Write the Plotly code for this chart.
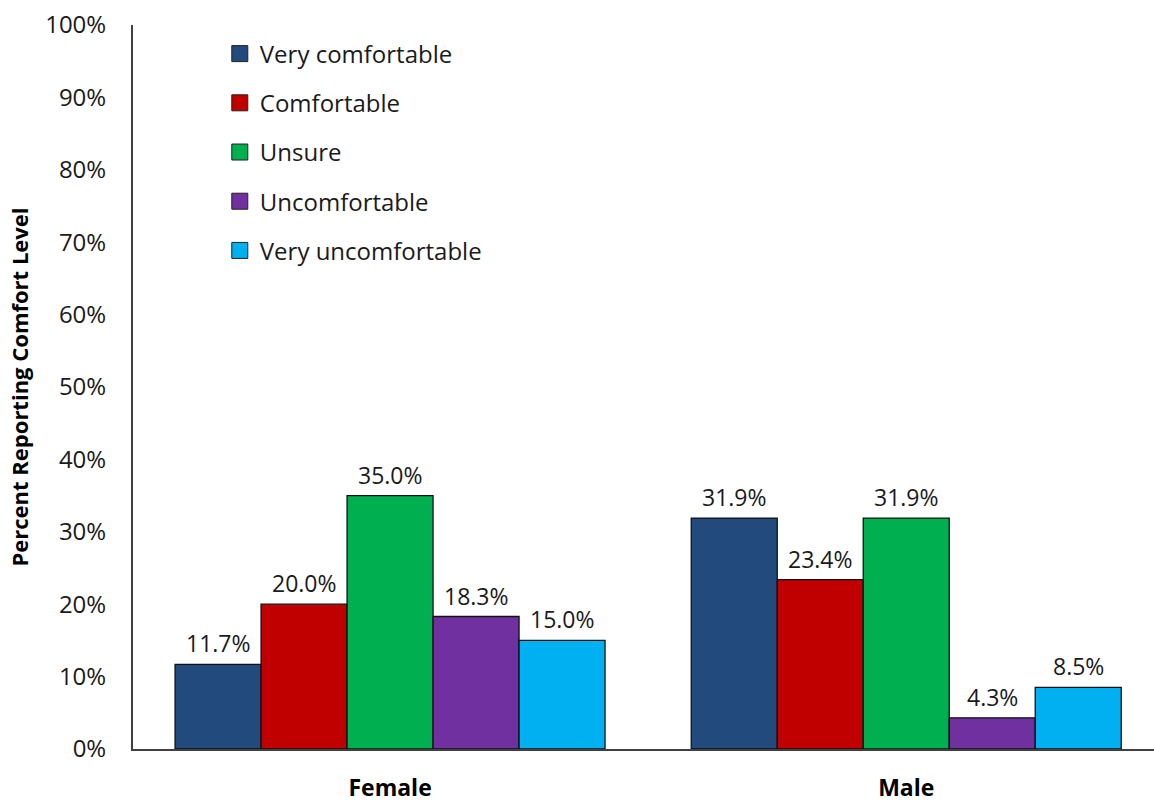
import plotly.graph_objects as go

# Comfort level by gender (percent of respondents)
groups = ["Female", "Male"]
levels = ["Very comfortable", "Comfortable", "Unsure", "Uncomfortable", "Very uncomfortable"]
very_comfortable = [11.7, 31.9]
comfortable = [20.0, 23.4]
unsure = [35.0, 31.9]
uncomfortable = [18.3, 4.3]
very_uncomfortable = [15.0, 8.5]
series = [very_comfortable, comfortable, unsure, uncomfortable, very_uncomfortable]
colors = ["#234A7C", "#C00000", "#00B050", "#7030A0", "#00B0F0"]

FONT = "Open Sans"
TXT = "#1a1a1a"
AXIS = "#404040"
BARGAP = 0.167

fig = go.Figure()
for name, vals, col in zip(levels, series, colors):
    fig.add_trace(go.Bar(
        x=groups, y=[v / 100 for v in vals], name=name,
        marker=dict(color=col, line=dict(color="#111111", width=1.3)),
        showlegend=False,
    ))

# legend entries with larger square swatches
for i, (name, col) in enumerate(zip(levels, colors)):
    fig.add_trace(go.Scatter(
        x=[None], y=[None], mode="markers", name=name, legendgroup=f"g{i}",
        marker=dict(symbol="square", size=16, color=col,
                    line=dict(color="#222222", width=1)),
    ))

# value labels above each bar
n = len(series)
bw = (1 - BARGAP) / n
for i, vals in enumerate(series):
    off = -(1 - BARGAP) / 2 + (i + 0.5) * bw
    for j, v in enumerate(vals):
        fig.add_annotation(
            x=j + off, y=v / 100, xref="x", yref="y",
            text=f"{v:.1f}%", showarrow=False,
            yanchor="middle", yshift=21,
            font=dict(family=FONT, size=23, color=TXT),
        )

fig.update_layout(
    width=1154, height=802,
    margin=dict(l=133, r=0, t=25, b=53),
    paper_bgcolor="white", plot_bgcolor="white",
    barmode="group", bargap=BARGAP, bargroupgap=0,
    font=dict(family=FONT, color=TXT),
    legend=dict(
        x=0.085, y=0.991, xanchor="left", yanchor="top",
        font=dict(family=FONT, size=24, color=TXT),
        tracegroupgap=15, itemsizing="trace",
        bgcolor="rgba(0,0,0,0)",
    ),
    xaxis=dict(
        type="category", range=[-0.498, 1.48], automargin=False,
        showline=True, linecolor=AXIS, linewidth=2,
        showgrid=False, ticks="", ticklabelstandoff=17,
        tickfont=dict(family=FONT, size=23, color="#000000", weight="bold"),
        zeroline=False,
    ),
    yaxis=dict(
        range=[0, 1], dtick=0.1, tickformat=".0%", automargin=False,
        showline=True, linecolor=AXIS, linewidth=2,
        showgrid=False, zeroline=False, ticks="", ticklabelstandoff=20,
        tickfont=dict(family=FONT, size=24, color=TXT),
        title=dict(text="Percent Reporting Comfort Level", standoff=10,
                   font=dict(family=FONT, size=22, color="#000000", weight="bold")),
    ),
)

fig.write_html("out.html")
